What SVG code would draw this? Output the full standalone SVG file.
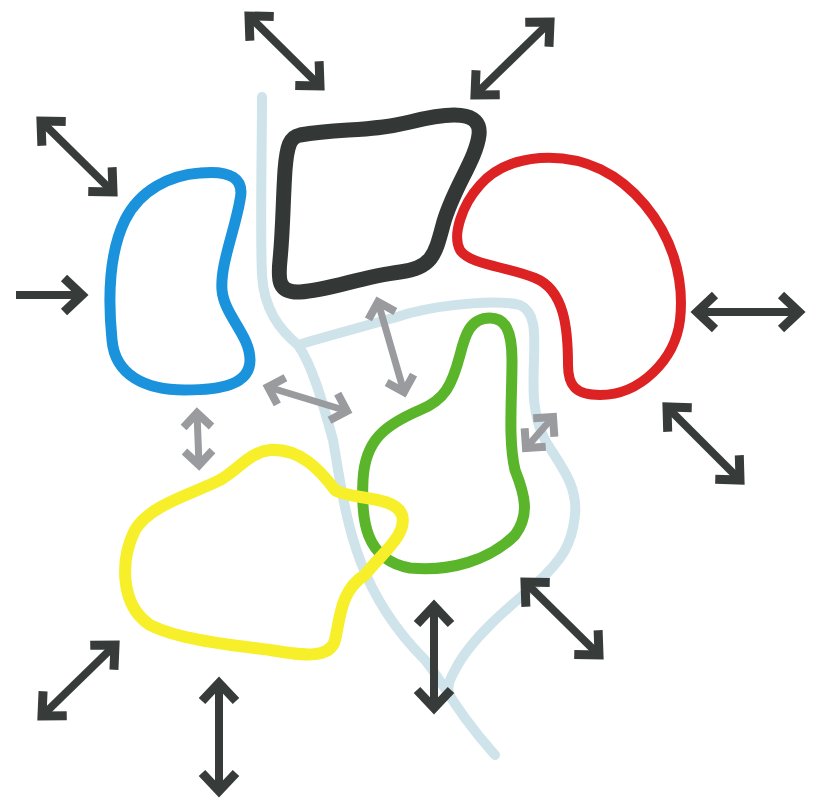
<svg xmlns="http://www.w3.org/2000/svg" width="814" height="803" viewBox="0 0 814 803">
<defs>
<style>
.path{fill:none;stroke:#cfe3ea;stroke-width:10;stroke-linecap:round;stroke-linejoin:round}
.blob{fill:none;stroke-linejoin:round}
.dark{fill:none;stroke:#373c3a;stroke-width:8;marker-start:url(#hd);marker-end:url(#hd)}
.single{marker-start:none}
.grey{fill:none;stroke:#9a9b9e;stroke-width:7;marker-start:url(#hg);marker-end:url(#hg)}
</style>
<marker id="hd" markerUnits="userSpaceOnUse" viewBox="-30 -30 40 60" refX="0" refY="0" markerWidth="40" markerHeight="60" orient="auto-start-reverse">
<path d="M-18,-17 L0,0 L-18,17" fill="none" stroke="#373c3a" stroke-width="9" stroke-linejoin="miter" stroke-miterlimit="10"/>
</marker>
<marker id="hg" markerUnits="userSpaceOnUse" viewBox="-30 -30 40 60" refX="0" refY="0" markerWidth="40" markerHeight="60" orient="auto-start-reverse">
<path d="M-14,-14 L0,0 L-14,14" fill="none" stroke="#9a9b9e" stroke-width="8" stroke-linejoin="miter" stroke-miterlimit="10"/>
</marker>
</defs>
<rect width="814" height="803" fill="#ffffff"/>
<g id="paths">
<path class="path" d="M262,97 C262,150 260,230 262,275 C264,310 280,330 298,345 C312,365 322,400 333,440 C340,480 345,520 360,560 C375,600 400,635 425,660 C445,685 455,710 495,755"/>
<path class="path" d="M298,345 C330,335 370,325 410,313 C450,303 500,300 520,305 C535,312 535,330 534,360 C533,390 532,415 545,440 C560,465 578,485 575,515 C572,545 562,560 535,585 C505,610 470,640 455,670 C448,682 447,690 450,695"/>
</g>
<g id="blue">
<path class="blob" stroke="#1a93dc" stroke-width="11" d="M200,173 C230,170 245,178 240,200 C235,230 220,265 222,290 C224,315 250,335 250,360 C250,385 220,390 185,390 C145,390 115,375 112,340 C108,300 108,255 125,220 C140,190 170,175 200,173 Z"/>
</g>
<g id="black">
<path class="blob" stroke="#333836" stroke-width="15" d="M300,135 C340,128 370,132 410,122 C450,112 482,110 479,135 C476,160 452,190 443,225 C435,255 432,268 400,272 C360,277 330,290 300,292 C278,293 278,280 280,260 C283,230 283,200 285,170 C287,145 290,137 300,135 Z"/>
</g>
<g id="red">
<path class="blob" stroke="#dc2222" stroke-width="10" d="M540,158 C585,155 620,175 645,205 C670,235 685,275 680,320 C675,360 640,395 600,395 C575,395 568,385 568,365 C568,330 565,290 535,278 C505,266 470,265 460,250 C452,235 462,205 480,185 C495,168 515,160 540,158 Z"/>
</g>
<g id="green">
<path class="blob" stroke="#5ab52a" stroke-width="11" d="M490,318 C470,318 465,335 460,355 C452,385 445,400 420,410 C385,425 365,440 363,480 C361,520 365,560 410,568 C450,572 490,560 515,535 C530,515 525,495 515,470 C508,440 512,400 512,360 C512,330 505,318 490,318 Z"/>
</g>
<g id="yellow">
<path class="blob" stroke="#f6ef2a" stroke-width="12" d="M270,450 C300,448 320,470 335,490 C350,500 395,495 402,515 C408,535 380,555 365,575 C340,590 340,620 335,640 C330,660 300,655 270,650 C230,645 180,640 150,625 C120,605 120,560 135,530 C150,505 190,495 220,480 C240,468 250,452 270,450 Z"/>
</g>
<g id="connectors">
<line class="dark" x1="249" y1="16" x2="320" y2="86"/>
<line class="dark" x1="550" y1="22" x2="475" y2="95"/>
<line class="dark" x1="41" y1="121" x2="113" y2="192"/>
<line class="dark single" x1="16" y1="295" x2="82" y2="295"/>
<line class="dark" x1="697" y1="312" x2="799" y2="312"/>
<line class="dark" x1="667" y1="407" x2="740" y2="480"/>
<line class="dark" x1="525" y1="582" x2="599" y2="655"/>
<line class="dark" x1="434" y1="606" x2="434" y2="708"/>
<line class="dark" x1="219" y1="683" x2="219" y2="791"/>
<line class="dark" x1="42" y1="716" x2="115" y2="645"/>
<line class="grey" x1="197" y1="413" x2="199" y2="465"/>
<line class="grey" x1="268" y1="387" x2="347" y2="411"/>
<line class="grey" x1="378" y1="302" x2="404" y2="392"/>
<line class="grey" x1="526" y1="448" x2="553" y2="417"/>
</g>
</svg>
